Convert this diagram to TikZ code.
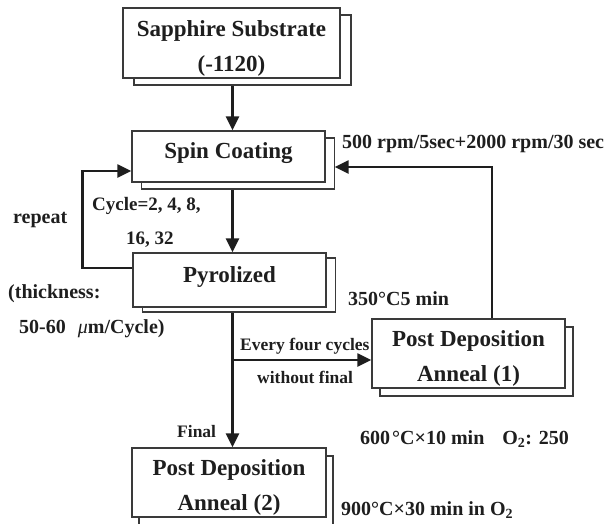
\documentclass[tikz,border=0pt]{standalone}
\usepackage{fontspec}
\setmainfont{Liberation Serif}
\usetikzlibrary{arrows.meta,shadows,backgrounds}
\definecolor{ink}{HTML}{1E1E1E}
\definecolor{boxline}{HTML}{3A3A3A}
\newcommand\boxtext[2]{\raisebox{#1}[0pt][0pt]{\begin{tabular}[t]{@{}c@{}}#2\end{tabular}}}
\tikzset{
  sbox/.style 2 args={draw=boxline, line width=1.3pt, fill=white, inner sep=0pt,
    text=ink, font=\fontsize{23}{35}\selectfont\bfseries,
    copy shadow={shadow xshift=#1, shadow yshift=#2, draw=boxline, fill=white, line width=1.3pt}},
  arr/.style={draw=ink, line width=2.3pt, -{Triangle[length=14pt,width=13pt]}},
  lbig/.style={anchor=base west, inner sep=0pt, text=ink, font=\fontsize{20}{24}\selectfont\bfseries},
  lsmall/.style={anchor=base west, inner sep=0pt, text=ink, font=\fontsize{17.5}{21}\selectfont\bfseries},
  lmid/.style={anchor=base west, inner sep=0pt, text=ink, font=\fontsize{19}{22}\selectfont\bfseries},
}
\begin{document}
\begin{tikzpicture}[x=1pt,y=-1pt]
\useasboundingbox (0,0) rectangle (610,523);
% boxes
\node[sbox={11pt}{-7pt}, minimum width=217pt, minimum height=70pt] (sap) at (231.5,43)
  {\boxtext{7pt}{Sapphire Substrate\\(-1120)}};
\node[sbox={9.5pt}{-7pt}, minimum width=193pt, minimum height=51pt] (spin) at (228.5,156.5)
  {\boxtext{-1.5pt}{Spin Coating}};
\node[sbox={9.5pt}{-5pt}, minimum width=193pt, minimum height=54pt] (pyro) at (229.5,280)
  {\boxtext{-2pt}{Pyrolized}};
\node[sbox={8pt}{-8pt}, minimum width=193pt, minimum height=69pt] (pda1) at (468.5,353.5)
  {\boxtext{7.5pt}{Post Deposition\\Anneal (1)}};
\node[sbox={7pt}{-8pt}, minimum width=194pt, minimum height=69pt] (pda2) at (229,482.5)
  {\boxtext{7.5pt}{Post Deposition\\Anneal (2)}};
% helper coordinates
\coordinate (spine) at (232.5,0);
\coordinate (fbtop) at (492,167);
\coordinate (br) at (232.5,360);
% connectors
\begin{scope}[on background layer]
\draw[arr] (sap.south -| spine) -- (spin.north -| spine);
\draw[arr] (spin.south -| spine) -- (pyro.north -| spine);
\draw[arr] (pyro.south -| spine) -- (pda2.north -| spine);
\draw[arr] (br) -- (pda1.west |- br);
\draw[arr] ([xshift=23.5pt]pda1.north) |- ([xshift=9pt]spin.east |- fbtop);
\draw[arr] ([yshift=12pt]pyro.west) -- ++(-50pt,0) |- ([yshift=-14.5pt]spin.west);
\end{scope}
% labels
\node[lbig] (rpm) at (342,148) {500 rpm/5sec+2000 rpm/30 sec};
\node[lmid] (cyc1) at (92,210) {Cycle=2, 4, 8,};
\node[lmid] (cyc2) at (126,244) {16, 32};
\node[lbig] (rep) at (13,223) {repeat};
\node[lbig] (thk1) at (8,298) {(thickness:};
\node[lbig] (thk2) at (19,333) {50-60\hspace{12pt}{\mdseries\itshape μ}m/Cycle)};
\node[lbig] (t350) at (348,305) {350°C5 min};
\node[lsmall] (every) at (240,350) {Every four cycles};
\node[lsmall] (wof) at (257,383) {without final};
\node[lsmall] (fin) at (177,437) {Final};
\node[lbig] (t600) at (360,444) {600\hspace{2pt}°C×10 min\hspace{18pt}O\textsubscript{2}: 250};
\node[lbig] (t900) at (341,515) {900°C×30 min in O\textsubscript{2}};
\end{tikzpicture}
\end{document}
